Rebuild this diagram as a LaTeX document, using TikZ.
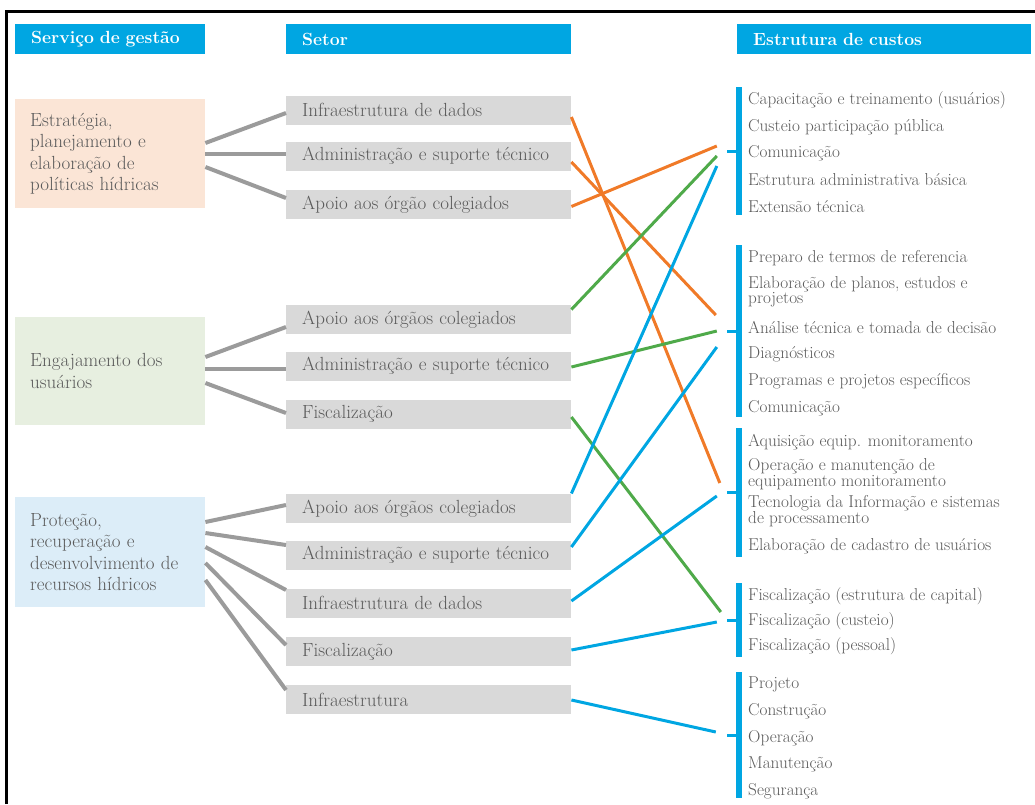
\documentclass[tikz,border=0pt]{standalone}
\usepackage{fontspec}
\setmainfont{Latin Modern Roman}
\usetikzlibrary{calc}
\definecolor{hblue}{HTML}{00A6E2}
\definecolor{lorange}{HTML}{F07A28}
\definecolor{lgreen}{HTML}{4FAA4A}
\definecolor{lgray}{HTML}{9B9B9B}
\definecolor{boxgray}{HTML}{D9D9D9}
\definecolor{peach}{HTML}{FBE5D6}
\definecolor{pgreen}{HTML}{E7EFE0}
\definecolor{pblue}{HTML}{DCEDF8}
\definecolor{txt}{HTML}{5A5A5A}
\tikzset{
  hdr/.style={anchor=west, fill=hblue, text=white, font=\fontsize{17.6}{20}\selectfont\bfseries,
    minimum height=30pt, inner xsep=16pt, inner ysep=0pt, align=left},
  svc/.style={anchor=west, inner xsep=15pt, inner ysep=0pt, text width=160pt, align=left,
    text=txt, font=\fontsize{19}{21.5}\selectfont},
  sec/.style={anchor=west, fill=boxgray, inner xsep=16pt, inner ysep=0pt, text width=253pt,
    minimum height=29pt, align=left, text=txt, font=\fontsize{19}{21}\selectfont},
  item/.style={anchor=west, inner sep=0pt, align=left, text=txt, font=\fontsize{17.2}{13.5}\selectfont},
  bar/.style={fill=hblue, minimum width=6pt, inner sep=0pt},
  tick/.style={hblue, line width=3pt},
  gline/.style={lgray, line width=4pt},
  oline/.style={lorange, line width=3pt},
  gnline/.style={lgreen, line width=3pt},
  bline/.style={hblue, line width=3pt},
}
\begin{document}
\begin{tikzpicture}[x=1pt,y=-1pt]
\useasboundingbox (0,0) rectangle (1035,804);
\draw[line width=2.5pt] (6.5,804) -- (6.5,11.5) -- (1035,11.5);

% headers
\node[hdr, text width=158pt] (h1) at (15,39) {Serviço de gestão};
\node[hdr, text width=253pt] (h2) at (286,39) {Setor};
\node[hdr, text width=262pt] (h3) at (737,39) {Estrutura de custos};

% service boxes
\node[svc, fill=peach, minimum height=109pt] (s1) at (15,153.5) {Estratégia,\\planejamento e\\elaboração de\\políticas hídricas};
\node[svc, fill=pgreen, minimum height=108pt] (s2) at (15,371) {Engajamento dos\\usuários};
\node[svc, fill=pblue, minimum height=110pt] (s3) at (15,552) {Proteção,\\recuperação e\\desenvolvimento de\\recursos hídricos};

% sector boxes
\node[sec] (m1) at (286,110) {Infraestrutura de dados};
\node[sec] (m2) at (286,156) {Administração e suporte técnico};
\node[sec] (m3) at (286,204.5) {Apoio aos órgão colegiados};
\node[sec] (m4) at (286,319.5) {Apoio aos órgãos colegiados};
\node[sec] (m5) at (286,366) {Administração e suporte técnico};
\node[sec] (m6) at (286,414) {Fiscalização};
\node[sec] (m7) at (286,508.5) {Apoio aos órgãos colegiados};
\node[sec] (m8) at (286,555) {Administração e suporte técnico};
\node[sec] (m9) at (286,603) {Infraestrutura de dados};
\node[sec] (m10) at (286,651.5) {Fiscalização};
\node[sec] (m11) at (286,699.5) {Infraestrutura};

% brackets
\node[bar, minimum height=128pt] (b1) at (739,151) {};
\node[bar, minimum height=172pt] (b2) at (739,331) {};
\node[bar, minimum height=129pt] (b3) at (739,492.5) {};
\node[bar, minimum height=74pt] (b4) at (739,620) {};
\node[bar, minimum height=126pt] (b5) at (739,735) {};
\foreach \b in {b1,b2,b3,b4,b5} \draw[tick] (\b.west) -- ++(-9,0);

% cost items
\node[item] (r11) at (748,100) {Capacitação e treinamento (usuários)};
\node[item] (r12) at (748,127) {Custeio participação pública};
\node[item] (r13) at (748,153.5) {Comunicação};
\node[item] (r14) at (748,180) {Estrutura administrativa básica};
\node[item] (r15) at (748,207) {Extensão técnica};

\node[item] (r21) at (748,258) {Preparo de termos de referencia};
\node[item] (r22) at (748,292) {Elaboração de planos, estudos e\\projetos};
\node[item] (r23) at (748,327) {Análise técnica e tomada de decisão};
\node[item] (r24) at (748,354) {Diagnósticos};
\node[item] (r25) at (748,381) {Programas e projetos específicos};
\node[item] (r26) at (748,408) {Comunicação};

\node[item] (r31) at (748,442) {Aquisição equip. monitoramento};
\node[item] (r32) at (748,474) {Operação e manutenção de\\equipamento monitoramento};
\node[item] (r33) at (748,511) {Tecnologia da Informação e sistemas\\de processamento};
\node[item] (r34) at (748,546) {Elaboração de cadastro de usuários};

\node[item] (r41) at (748,596) {Fiscalização (estrutura de capital)};
\node[item] (r42) at (748,621) {Fiscalização (custeio)};
\node[item] (r43) at (748,646) {Fiscalização (pessoal)};

\node[item] (r51) at (748,684) {Projeto};
\node[item] (r52) at (748,711) {Construção};
\node[item] (r53) at (748,738) {Operação};
\node[item] (r54) at (748,764) {Manutenção};
\node[item] (r55) at (748,791) {Segurança};

% gray connectors
\draw[gline] ($(s1.east)+(0,-10.5)$) -- ($(m1.west)+(0,3)$);
\draw[gline] ($(s1.east)+(0,0.5)$) -- ($(m2.west)+(0,-2)$);
\draw[gline] ($(s1.east)+(0,13.5)$) -- ($(m3.west)+(0,-6.5)$);
\draw[gline] ($(s2.east)+(0,-14)$) -- ($(m4.west)+(0,7.5)$);
\draw[gline] ($(s2.east)+(0,-2)$) -- ($(m5.west)+(0,3)$);
\draw[gline] ($(s2.east)+(0,12)$) -- ($(m6.west)+(0,-1)$);
\draw[gline] ($(s3.east)+(0,-30)$) -- ($(m7.west)+(0,-3.5)$);
\draw[gline] ($(s3.east)+(0,-19)$) -- ($(m8.west)+(0,-10)$);
\draw[gline] ($(s3.east)+(0,-5)$) -- ($(m9.west)+(0,-13)$);
\draw[gline] ($(s3.east)+(0,11)$) -- ($(m10.west)+(0,-6.5)$);
\draw[gline] ($(s3.east)+(0,28)$) -- ($(m11.west)+(0,-9.5)$);

% colored connectors
\draw[oline] ($(m1.east)+(0,7)$) -- ($(b3.west)+(-16,-9.5)$);
\draw[oline] ($(m2.east)+(0,6)$) -- ($(b2.west)+(-20,-16)$);
\draw[oline] ($(m3.east)+(0,2)$) -- ($(b1.west)+(-19,-5)$);
\draw[gnline] ($(m4.east)+(0,-10)$) -- ($(b1.west)+(-19,5)$);
\draw[gnline] ($(m5.east)+(0,1)$) -- ($(b2.west)+(-19,0)$);
\draw[gnline] ($(m6.east)+(0,3)$) -- ($(b4.west)+(-15,-8)$);
\draw[bline] ($(m7.east)+(0,-15)$) -- ($(b1.west)+(-19,15)$);
\draw[bline] ($(m8.east)+(0,-8)$) -- ($(b2.west)+(-19,16)$);
\draw[bline] ($(m9.east)+(0,-2)$) -- ($(b3.west)+(-19,3.5)$);
\draw[bline] ($(m10.east)+(0,-1.5)$) -- ($(b4.west)+(-19,2)$);
\draw[bline] ($(m11.east)+(0,0.5)$) -- ($(b5.west)+(-20,-3)$);
\end{tikzpicture}
\end{document}
